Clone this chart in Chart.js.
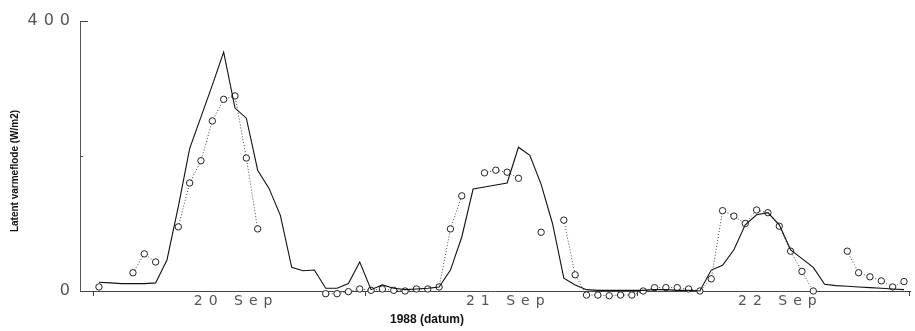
<!DOCTYPE html>
<html>
<head>
<meta charset="utf-8">
<script src="https://cdn.jsdelivr.net/npm/chart.js@4/dist/chart.umd.min.js"></script>
<style>
  html, body { margin: 0; padding: 0; background: #fff; }
  #chart { display: block; }
</style>
</head>
<body>
<canvas id="chart" width="915" height="331"></canvas>
<script>
// timer fra 20 Sep 00:00 (timesmiddel)
const hours = [
   0,  1,  2,  3,  4,  5,  6,  7,  8,  9, 10, 11, 12, 13, 14, 15, 16, 17, 18, 19, 20, 21, 22, 23,
  24, 25, 26, 27, 28, 29, 30, 31, 32, 33, 34, 35, 36, 37, 38, 39, 40, 41, 42, 43, 44, 45, 46, 47,
  48, 49, 50, 51, 52, 53, 54, 55, 56, 57, 58, 59, 60, 61, 62, 63, 64, 65, 66, 67, 68, 69, 70, 71
];

// heltrukken linje (beregnet)
const beregnet = [
   13,  12,  11,  11,  11,  12,  46, 125, 211, 258, 305, 354, 271, 256, 179, 152, 112,  35,  30,  31,   4,   4,  11,  43,
    2,   9,   4,   2,   3,   4,   6,  31,  80, 151, 154, 157, 160, 213, 201, 158, 100,  19,   9,   2,   1,   1,   1,   1,
    1,   2,   2,   1,   1,   0,  31,  38,  61,  98, 113, 116,  98,  61,  48,  35,  10,   8,   7,   6,   5,   4,   3,   2
];

// stiplet med sirkler (malt), null = mangler
const malt = [
    6, null, null, 27,  55,  43, null, 95, 160, 193, 252, 284, 289, 197,  92, null, null, null, null, null, -4,  -4,  -1,   3,
    1,   3,   1,   0,   3,   3,   6,  92, 141, null, 175, 179, 176, 167, null, 87, null, 105, 24,  -6,  -6,  -7,  -6,  -6,
    0,   5,   5,   5,   3,   0,  18, 119, 111, 100, 120, 116,  96,  59,  29,   0, null, null, 59,  27,  21,  15,   6,  14
];

const dayStarts = [0, 24, 48, 72];
const dayLabels = ['20 Sep', '21 Sep', '22 Sep'];
const yTicks = [0, 400];
const yMinor = [200];

const toPoints = arr => arr.map((v, i) => ({ x: hours[i] + 0.5, y: v }));

// egne småting: tikk inne i plottet og aksetitler
const decor = {
  id: 'decor',
  beforeDraw(chart) {
    chart.ctx.letterSpacing = '6px';
  },
  afterDraw(chart) {
    const ctx = chart.ctx;
    const y = chart.scales.y;
    const left = chart.chartArea.left;
    ctx.save();
    ctx.letterSpacing = '0px';
    ctx.strokeStyle = '#444';
    ctx.lineWidth = 1;
    ctx.beginPath();
    const yt = Math.round(y.getPixelForValue(400)) + 0.5;
    ctx.moveTo(left, yt); ctx.lineTo(left + 8, yt);
    yMinor.forEach(v => {
      const p = Math.round(y.getPixelForValue(v)) + 0.5;
      ctx.moveTo(left, p); ctx.lineTo(left + 3, p);
    });
    ctx.stroke();

    ctx.fillStyle = '#111';
    ctx.font = 'bold 10px "Liberation Sans", Arial, sans-serif';
    ctx.textAlign = 'center';
    ctx.textBaseline = 'middle';
    ctx.save();
    ctx.translate(15, 171);
    ctx.rotate(-Math.PI / 2);
    ctx.fillText('Latent varmeflode (W/m2)', 0, 0);
    ctx.restore();

    ctx.font = 'bold 12px "Liberation Sans", Arial, sans-serif';
    ctx.fillText('1988 (datum)', 427, 320);
    ctx.restore();
  }
};

new Chart(document.getElementById('chart'), {
  type: 'line',
  data: {
    datasets: [
      {
        label: 'beregnet',
        data: toPoints(beregnet),
        borderColor: '#111',
        borderWidth: 1.1,
        pointRadius: 0,
        tension: 0,
        spanGaps: false,
        clip: false
      },
      {
        label: 'malt',
        data: toPoints(malt),
        borderColor: '#444',
        borderWidth: 1,
        borderDash: [1, 2],
        pointRadius: 3.2,
        pointBorderWidth: 1,
        pointBorderColor: '#222',
        pointBackgroundColor: '#fff',
        tension: 0,
        spanGaps: false,
        clip: false
      }
    ]
  },
  plugins: [decor],
  options: {
    responsive: false,
    animation: false,
    layout: { padding: { left: 0, right: 3, top: 21, bottom: 0 } },
    plugins: { legend: { display: false }, tooltip: { enabled: false } },
    scales: {
      x: {
        type: 'linear',
        min: -1.17,
        max: 72.03,
        afterFit(scale) { scale.height = 40; },
        afterBuildTicks(scale) {
          const t = [];
          dayStarts.forEach(d => t.push({ value: d }));
          dayLabels.forEach((l, i) => t.push({ value: dayStarts[i] + 12.6 }));
          t.sort((a, b) => a.value - b.value);
          scale.ticks = t;
        },
        border: { display: true, color: '#444', width: 1 },
        grid: {
          drawOnChartArea: false,
          drawTicks: true,
          tickLength: 5,
          color: c => (c.tick && dayStarts.includes(c.tick.value)) ? '#444' : 'rgba(0,0,0,0)'
        },
        ticks: {
          autoSkip: false,
          maxRotation: 0,
          padding: -3,
          color: '#555',
          font: { family: '"DejaVu Sans", sans-serif', size: 14 },
          callback: v => {
            const i = dayStarts.findIndex(d => Math.abs(d + 12.6 - v) < 0.01);
            return i >= 0 ? dayLabels[i] : '';
          }
        }
      },
      y: {
        min: 0,
        max: 400,
        afterFit(scale) { scale.width = 80; },
        afterBuildTicks(scale) {
          scale.ticks = yTicks.map(v => ({ value: v }));
        },
        border: { display: true, color: '#555', width: 1 },
        grid: { display: false },
        ticks: {
          padding: -4,
          color: '#555',
          font: { family: '"DejaVu Sans", sans-serif', size: 16 }
        }
      }
    }
  }
});
</script>
</body>
</html>
